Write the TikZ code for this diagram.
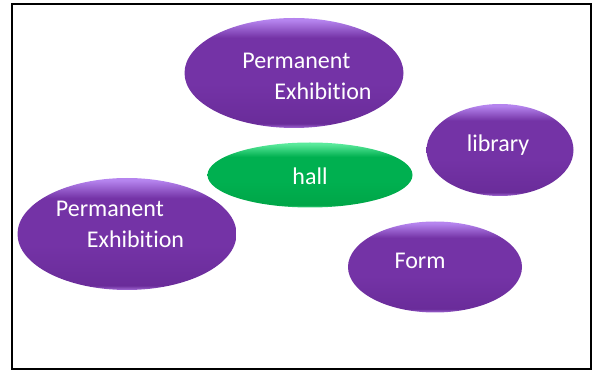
\documentclass[tikz,border=0pt]{standalone}
\usepackage{fontspec}
\setmainfont{Carlito}[Ligatures=NoCommon]
\usetikzlibrary{shapes.geometric}

\definecolor{blobtop}{HTML}{B584EE}
\definecolor{blobmain}{HTML}{7433A6}
\definecolor{blobdeep}{HTML}{6A2C9A}
\definecolor{blobrim}{HTML}{A36BD6}
\definecolor{halltop}{HTML}{5BEA9C}
\definecolor{hallmain}{HTML}{00B050}
\definecolor{halldeep}{HTML}{00A648}
\definecolor{hallrim}{HTML}{3CD27E}

% the path spans 25bp (bottom) to 75bp (top)
\pgfdeclareverticalshading{purpleblob}{100bp}{color(0bp)=(blobrim); color(25bp)=(blobrim);
  color(27bp)=(blobdeep); color(45bp)=(blobmain); color(66bp)=(blobmain); color(74bp)=(blobtop); color(100bp)=(blobtop)}
\pgfdeclareverticalshading{greenblob}{100bp}{color(0bp)=(hallrim); color(25bp)=(hallrim);
  color(27bp)=(halldeep); color(45bp)=(hallmain); color(64bp)=(hallmain); color(74bp)=(halltop); color(100bp)=(halltop)}

\tikzset{
  room/.style={ellipse, inner sep=0pt, shading=purpleblob},
  hallroom/.style={ellipse, inner sep=0pt, shading=greenblob},
  roomtext/.style={text=white, font=\fontsize{24}{31}\selectfont, align=left}
}

\begin{document}
\begin{tikzpicture}[x=1pt, y=-1pt]
\useasboundingbox (0,0) rectangle (598,371);

% ======================
% Frame
% ======================
\draw[line width=2pt] (12,4) rectangle (591,369);

% ======================
% Rooms
% ======================
\node[room, minimum width=219, minimum height=110] (exhibitA) at (294,73) {};
\node[room, minimum width=147, minimum height=92] (library) at (500,150) {};
\node[hallroom, minimum width=205, minimum height=65] (hall) at (310,175) {};
\node[room, minimum width=219, minimum height=112] (exhibitB) at (127,234) {};
\node[room, minimum width=174, minimum height=91] (form) at (435,267) {};

% ======================
% Labels
% ======================
\node[roomtext] at ([xshift=13pt, yshift=-3pt]exhibitA.center) {Permanent\\\hspace*{32pt}Exhibition};
\node[roomtext] at ([xshift=-7pt, yshift=10pt]exhibitB.center) {Permanent\\\hspace*{31pt}Exhibition};
\node[roomtext] at ([xshift=-2pt, yshift=5pt]library.center) {library};
\node[roomtext] at ([yshift=-1pt]hall.center) {hall};
\node[roomtext] at ([xshift=-15pt, yshift=6pt]form.center) {Form};

\end{tikzpicture}
\end{document}
